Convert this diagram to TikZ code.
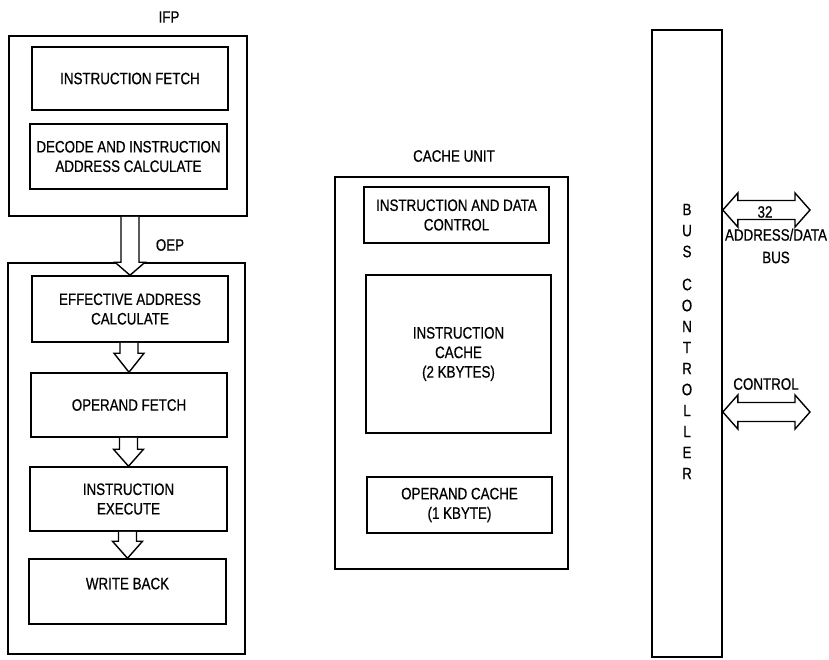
\documentclass[tikz,border=0pt]{standalone}
\usepackage{fontspec}
\newfontfamily\figfont{Liberation Sans}[FakeStretch=0.81, FakeBold=0.6]
\usetikzlibrary{calc}
\newcommand\blockdown[3][17]{\draw[blockarrow] ($(#3.north |- #2.south)+(-9,0)$) -- ($(#3.north)+(-9,-#1)$) -- ($(#3.north)+(-15,-#1)$) -- (#3.north) -- ($(#3.north)+(15,-#1)$) -- ($(#3.north)+(9,-#1)$) -- ($(#3.north |- #2.south)+(9,0)$);}
\newcommand\blockpair[2]{\draw[blockarrow] (#1) -- ($(#1)+(15,-17)$) -- ($(#1)+(15,-9.5)$) -- ($(#2)+(-15,-9.5)$) -- ($(#2)+(-15,-17)$) -- (#2) -- ($(#2)+(-15,17)$) -- ($(#2)+(-15,9.5)$) -- ($(#1)+(15,9.5)$) -- ($(#1)+(15,17)$) -- cycle;}

\begin{document}
\begin{tikzpicture}[x=1pt, y=-1pt, font=\figfont\fontsize{16.5}{19.5}\selectfont,
	unit/.style={draw, line width=1.6pt, inner sep=0pt},
	stage/.style={draw, line width=1.5pt, align=center, inner sep=0pt},
	caption/.style={align=center, inner sep=0pt},
	blockarrow/.style={draw, line width=1.4pt, fill=white, line join=miter}]
			%%%%% START %%%%%
			
			\useasboundingbox (0,0) rectangle (829,659);
			
			% IFP
			\node[caption] (ifplabel) at (169,17) {IFP};
			\node[unit, minimum width=238, minimum height=180] (ifp) at (128,126) {};
			\node[stage, minimum width=196, minimum height=63] (fetch) at (130,78.5) {INSTRUCTION FETCH};
			\node[stage, minimum width=197, minimum height=65] (decode) at (128.5,156.5) {DECODE AND INSTRUCTION\\ADDRESS CALCULATE};
			
			% OEP
			\node[caption] (oeplabel) at (170,245) {OEP};
			\node[unit, minimum width=237, minimum height=391] (oep) at (126.5,458.5) {};
			\node[stage, minimum width=196, minimum height=66] (effaddr) at (130,309) {EFFECTIVE ADDRESS\\CALCULATE};
			\node[stage, minimum width=196, minimum height=64] (opfetch) at (129,405) {OPERAND FETCH};
			\node[stage, minimum width=197, minimum height=64] (execute) at (128.5,499) {INSTRUCTION\\EXECUTE};
			\node[stage, minimum width=197, minimum height=65, text depth=16] (writeback) at (127.5,591.5) {WRITE BACK};
			
			\blockdown[13]{ifp}{effaddr}
			\blockdown[19]{effaddr}{opfetch}
			\blockdown[17]{opfetch}{execute}
			\blockdown[17]{execute}{writeback}
			
			% cache unit
			\node[caption] (cachelabel) at (454,156) {CACHE UNIT};
			\node[unit, minimum width=233, minimum height=392] (cache) at (451.5,373) {};
			\node[stage, minimum width=185, minimum height=56] (datactl) at (456.5,215) {INSTRUCTION AND DATA\\CONTROL};
			\node[stage, minimum width=185, minimum height=158] (icache) at (458.5,354) {INSTRUCTION\\CACHE\\(2 KBYTES)};
			\node[stage, minimum width=185, minimum height=56] (ocache) at (459.5,505) {OPERAND CACHE\\(1 KBYTE)};
			
			% bus controller
			\node[unit, minimum width=70, minimum height=627] (bus) at (687,343.5) {};
			\node[caption, font=\figfont\fontsize{16.5}{21}\selectfont] (busname) at (687,341.5) {B\\U\\S\\[12pt]C\\O\\N\\T\\R\\O\\L\\L\\E\\R};
			
			\coordinate (adright) at (810,210);
			\coordinate (adleft) at (bus.east |- adright);
			\blockpair{adleft}{adright}
			\node[caption] (buswidth) at (765,212) {32};
			\node[caption] (adlabel) at (776,246) {ADDRESS/DATA\\[3pt]BUS};
			
			\coordinate (ctlright) at (810,412);
			\coordinate (ctlleft) at (bus.east |- ctlright);
			\blockpair{ctlleft}{ctlright}
			\node[caption] (ctllabel) at (766,384) {CONTROL};
			
			%%%%% END %%%%%
\end{tikzpicture}
\end{document}
